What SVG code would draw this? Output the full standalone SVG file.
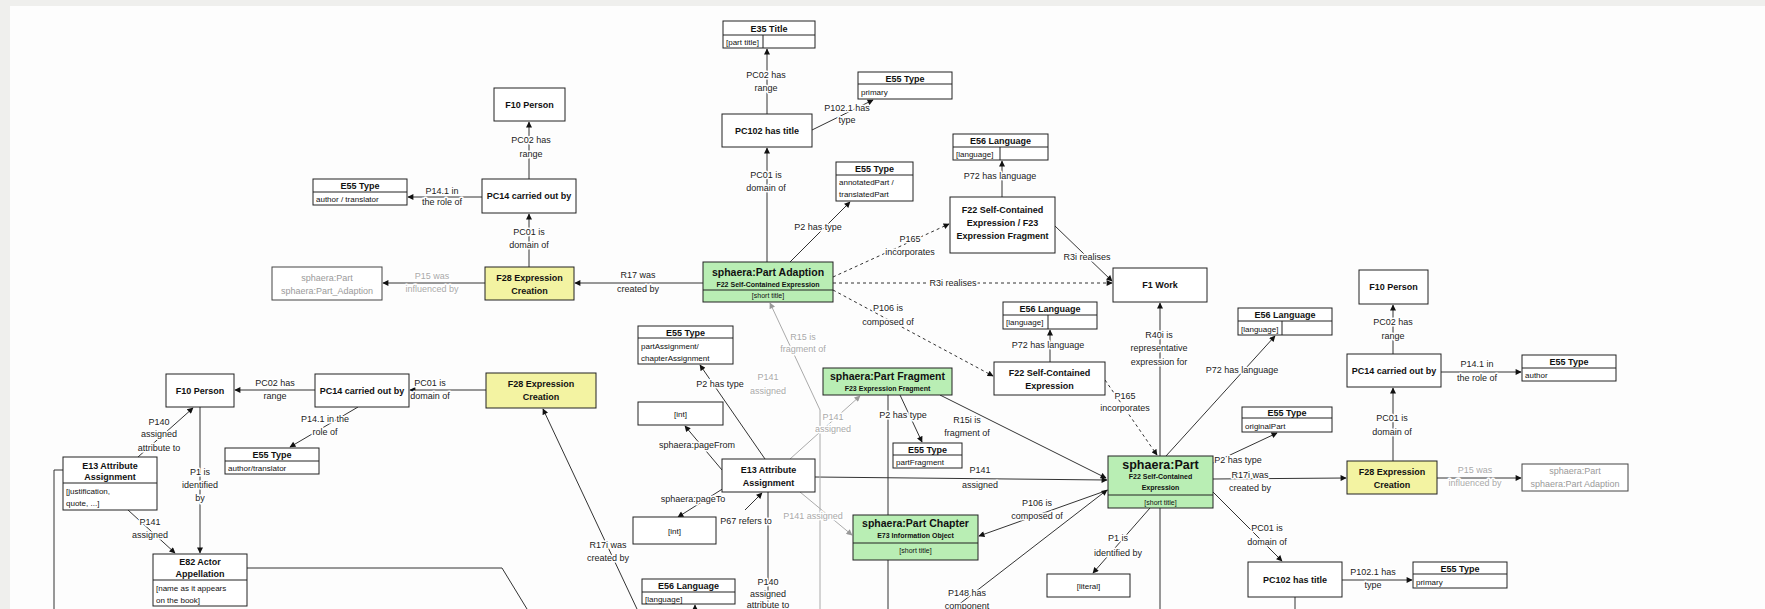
<svg xmlns="http://www.w3.org/2000/svg" width="1765" height="609" viewBox="0 0 1765 609">
<defs>
<marker id="ah" viewBox="0 0 10 10" refX="9" refY="5" markerWidth="7" markerHeight="6" markerUnits="userSpaceOnUse" orient="auto"><path d="M0,0 L10,5 L0,10 z" fill="#111"/></marker>
<marker id="ahg" viewBox="0 0 10 10" refX="9" refY="5" markerWidth="7" markerHeight="6" markerUnits="userSpaceOnUse" orient="auto"><path d="M0,0 L10,5 L0,10 z" fill="#999"/></marker>
<style>
.bx{fill:#fff;stroke:#222;stroke-width:1}
.gr{fill:#b9eeb4;stroke:#222;stroke-width:1}
.ye{fill:#f3f3a2;stroke:#222;stroke-width:1}
.gh{fill:#fff;stroke:#444;stroke-width:1}
.dv{stroke:#222;stroke-width:1}
text{font-family:"Liberation Sans",Arial,sans-serif;fill:#111}
.t{font-size:9px;font-weight:bold;text-anchor:middle}
.tg{font-size:10.5px;font-weight:bold;text-anchor:middle}
.st{font-size:7px;font-weight:bold;text-anchor:middle}
.sv{font-size:7px;text-anchor:middle}
.a{font-size:8px}
.gt{font-size:9px;text-anchor:middle;fill:#9a9a9a}
.lb{font-size:9px;text-anchor:middle;fill:#222;stroke:#fff;stroke-width:3px;paint-order:stroke;stroke-linejoin:round}
.lg{font-size:9px;text-anchor:middle;fill:#aaa;stroke:#fff;stroke-width:3px;paint-order:stroke;stroke-linejoin:round}
.c{fill:none;stroke:#333;stroke-width:1}
.cg{fill:none;stroke:#aaa;stroke-width:1}
.cd{fill:none;stroke:#333;stroke-width:1;stroke-dasharray:3,3}
</style>
</defs>
<rect x="0" y="0" width="1765" height="609" fill="#efefed"/>
<rect x="10" y="6" width="1755" height="603" fill="#fdfdfd"/>

<g id="connectors">
<line class="c" x1="482" y1="197" x2="408" y2="197" marker-end="url(#ah)"/>
<line class="c" x1="529" y1="179" x2="529" y2="122" marker-end="url(#ah)"/>
<line class="c" x1="529" y1="267" x2="529" y2="214" marker-end="url(#ah)"/>
<line class="c" x1="485" y1="283" x2="383" y2="283" stroke="#666" marker-end="url(#ah)"/>
<line class="c" x1="703" y1="283" x2="575" y2="283" marker-end="url(#ah)"/>
<line class="c" x1="767" y1="262" x2="767" y2="148" marker-end="url(#ah)"/>
<line class="c" x1="767" y1="114" x2="767" y2="49" marker-end="url(#ah)"/>
<line class="c" x1="812" y1="130" x2="873" y2="100" marker-end="url(#ah)"/>
<line class="c" x1="790" y1="262" x2="850" y2="202" marker-end="url(#ah)"/>
<line class="cd" x1="833" y1="277" x2="949" y2="224" marker-end="url(#ah)"/>
<line class="cd" x1="833" y1="283" x2="1112" y2="283" marker-end="url(#ah)"/>
<line class="cd" x1="833" y1="290" x2="993" y2="376" marker-end="url(#ah)"/>
<line class="c" x1="1055" y1="226" x2="1112" y2="281" marker-end="url(#ah)"/>
<line class="c" x1="1002" y1="197" x2="1002" y2="161" marker-end="url(#ah)"/>
<line class="c" x1="1050" y1="362" x2="1050" y2="330" marker-end="url(#ah)"/>
<line class="c" x1="1160" y1="456" x2="1160" y2="303" marker-end="url(#ah)"/>
<line class="cd" x1="1105" y1="380" x2="1157" y2="455" marker-end="url(#ah)"/>
<line class="c" x1="1166" y1="456" x2="1275" y2="336" marker-end="url(#ah)"/>
<line class="c" x1="1213" y1="463" x2="1277" y2="433" marker-end="url(#ah)"/>
<line class="c" x1="1213" y1="479" x2="1346" y2="478" marker-end="url(#ah)"/>
<line class="c" x1="1213" y1="492" x2="1282" y2="561" marker-end="url(#ah)"/>
<line class="c" x1="1342" y1="580" x2="1412" y2="580" marker-end="url(#ah)"/>
<line class="c" x1="1393" y1="461" x2="1393" y2="388" marker-end="url(#ah)"/>
<line class="c" x1="1393" y1="354" x2="1393" y2="305" marker-end="url(#ah)"/>
<line class="c" x1="1441" y1="372" x2="1521" y2="372" marker-end="url(#ah)"/>
<line class="c" x1="1437" y1="478" x2="1521" y2="478" stroke="#888" marker-end="url(#ah)"/>
<line class="c" x1="1295" y1="597" x2="1295" y2="609"/>
<line class="c" x1="1160" y1="508" x2="1160" y2="609"/>
<line class="c" x1="1150" y1="508" x2="1093" y2="573" marker-end="url(#ah)"/>
<line class="c" x1="1108" y1="490" x2="979" y2="536" marker-end="url(#ah)"/>
<line class="c" x1="953" y1="609" x2="1107" y2="490" marker-end="url(#ah)"/>
<line class="c" x1="815" y1="477" x2="1107" y2="480" marker-end="url(#ah)"/>
<line class="c" x1="940" y1="395" x2="1106" y2="478" marker-end="url(#ah)"/>
<line class="c" x1="900" y1="395" x2="922" y2="442" marker-end="url(#ah)"/>
<line class="c" x1="888" y1="395" x2="888" y2="609"/>
<polyline class="cg" points="820,609 820,410 770,303" marker-end="url(#ahg)"/>
<line class="cg" x1="790" y1="459" x2="860" y2="396" marker-end="url(#ahg)"/>
<line class="cg" x1="800" y1="492" x2="852" y2="535" marker-end="url(#ahg)"/>
<line class="c" x1="765" y1="459" x2="700" y2="365" marker-end="url(#ah)"/>
<line class="c" x1="722" y1="470" x2="685" y2="426" marker-end="url(#ah)"/>
<line class="c" x1="724" y1="488" x2="678" y2="517" marker-end="url(#ah)"/>
<line class="c" x1="745" y1="510" x2="762" y2="493" marker-end="url(#ah)"/>
<line class="c" x1="768" y1="492" x2="768" y2="609"/>
<line class="c" x1="486" y1="390" x2="410" y2="390" marker-end="url(#ah)"/>
<line class="c" x1="315" y1="390" x2="235" y2="390" marker-end="url(#ah)"/>
<line class="c" x1="358" y1="407" x2="290" y2="447" marker-end="url(#ah)"/>
<line class="c" x1="138" y1="457" x2="193" y2="408" marker-end="url(#ah)"/>
<line class="c" x1="200" y1="407" x2="200" y2="553" marker-end="url(#ah)"/>
<line class="c" x1="128" y1="510" x2="175" y2="553" marker-end="url(#ah)"/>
<polyline class="c" points="63,470 54,470 54,609"/>
<polyline class="c" points="247,568 502,568 527,609"/>
<line class="c" x1="637" y1="609" x2="543" y2="409" marker-end="url(#ah)"/>
<line class="c" x1="695" y1="612" x2="695" y2="605" marker-end="url(#ah)"/>

<text class="lb" x="442" y="194">P14.1 in</text><text class="lb" x="442" y="205">the role of</text>
<text class="lb" x="531" y="143">PC02 has</text><text class="lb" x="531" y="157">range</text>
<text class="lb" x="529" y="235">PC01 is</text><text class="lb" x="529" y="248">domain of</text>
<text class="lg" x="432" y="279">P15 was</text><text class="lg" x="432" y="292">influenced by</text>
<text class="lb" x="638" y="278">R17 was</text><text class="lb" x="638" y="292">created by</text>
<text class="lb" x="766" y="178">PC01 is</text><text class="lb" x="766" y="191">domain of</text>
<text class="lb" x="766" y="78">PC02 has</text><text class="lb" x="766" y="91">range</text>
<text class="lb" x="847" y="111">P102.1 has</text><text class="lb" x="847" y="123">type</text>
<text class="lb" x="818" y="230">P2 has type</text>
<text class="lb" x="910" y="242">P165</text><text class="lb" x="910" y="255">incorporates</text>
<text class="lb" x="953" y="286">R3i realises</text>
<text class="lb" x="888" y="311">P106 is</text><text class="lb" x="888" y="325">composed of</text>
<text class="lb" x="1087" y="260">R3i realises</text>
<text class="lb" x="1000" y="179">P72 has language</text>
<text class="lb" x="1048" y="348">P72 has language</text>
<text class="lb" x="1159" y="338">R40i is</text><text class="lb" x="1159" y="351">representative</text><text class="lb" x="1159" y="365">expression for</text>
<text class="lb" x="1125" y="399">P165</text><text class="lb" x="1125" y="411">incorporates</text>
<text class="lb" x="1242" y="373">P72 has language</text>
<text class="lb" x="1238" y="463">P2 has type</text>
<text class="lb" x="1250" y="478">R17i was</text><text class="lb" x="1250" y="491">created by</text>
<text class="lb" x="1267" y="531">PC01 is</text><text class="lb" x="1267" y="545">domain of</text>
<text class="lb" x="1373" y="575">P102.1 has</text><text class="lb" x="1373" y="588">type</text>
<text class="lb" x="1392" y="421">PC01 is</text><text class="lb" x="1392" y="435">domain of</text>
<text class="lb" x="1393" y="325">PC02 has</text><text class="lb" x="1393" y="339">range</text>
<text class="lb" x="1477" y="367">P14.1 in</text><text class="lb" x="1477" y="381">the role of</text>
<text class="lg" x="1475" y="473">P15 was</text><text class="lg" x="1475" y="486">influenced by</text>
<text class="lb" x="1118" y="541">P1 is</text><text class="lb" x="1118" y="556">identified by</text>
<text class="lb" x="1037" y="506">P106 is</text><text class="lb" x="1037" y="519">composed of</text>
<text class="lb" x="967" y="596">P148 has</text><text class="lb" x="967" y="609">component</text>
<text class="lb" x="980" y="473">P141</text><text class="lb" x="980" y="488">assigned</text>
<text class="lb" x="967" y="423">R15i is</text><text class="lb" x="967" y="436">fragment of</text>
<text class="lb" x="903" y="418">P2 has type</text>
<text class="lg" x="803" y="340">R15 is</text><text class="lg" x="803" y="352">fragment of</text>
<text class="lg" x="768" y="380">P141</text><text class="lg" x="768" y="394">assigned</text>
<text class="lg" x="833" y="420">P141</text><text class="lg" x="833" y="432">assigned</text>
<text class="lg" x="813" y="519">P141 assigned</text>
<text class="lb" x="720" y="387">P2 has type</text>
<text class="lb" x="697" y="448">sphaera:pageFrom</text>
<text class="lb" x="693" y="502">sphaera:pageTo</text>
<text class="lb" x="746" y="524">P67 refers to</text>
<text class="lb" x="768" y="585">P140</text><text class="lb" x="768" y="597">assigned</text><text class="lb" x="768" y="608">attribute to</text>
<text class="lb" x="430" y="386">PC01 is</text><text class="lb" x="430" y="399">domain of</text>
<text class="lb" x="275" y="386">PC02 has</text><text class="lb" x="275" y="399">range</text>
<text class="lb" x="325" y="422">P14.1 in the</text><text class="lb" x="325" y="435">role of</text>
<text class="lb" x="159" y="425">P140</text><text class="lb" x="159" y="437">assigned</text><text class="lb" x="159" y="451">attribute to</text>
<text class="lb" x="200" y="475">P1 is</text><text class="lb" x="200" y="488">identified</text><text class="lb" x="200" y="501">by</text>
<text class="lb" x="150" y="525">P141</text><text class="lb" x="150" y="538">assigned</text>
<text class="lb" x="608" y="548">R17i was</text><text class="lb" x="608" y="561">created by</text>
</g>

<g id="n_e55_author_translator"><rect class="bx" x="313" y="179" width="94" height="26"/><line class="dv" x1="313" y1="192" x2="407" y2="192"/><text class="t" x="360" y="189">E55 Type</text><text class="a" x="316" y="202">author / translator</text></g>
<g id="n_f10_person_top"><rect class="bx" x="494" y="88" width="71" height="33"/><text class="t" x="529.5" y="108">F10 Person</text></g>
<g id="n_pc14_top"><rect class="bx" x="482" y="179" width="94" height="34"/><text class="t" x="529" y="199">PC14 carried out by</text></g>
<g id="n_f28_top"><rect class="ye" x="485" y="267" width="89" height="33"/><text class="t" x="529.5" y="281">F28 Expression</text><text class="t" x="529.5" y="294">Creation</text></g>
<g id="n_ghost_left"><rect class="gh" x="272" y="267" width="110" height="33"/><text class="gt" x="327" y="281">sphaera:Part</text><text class="gt" x="327" y="294">sphaera:Part_Adaption</text></g>
<g id="n_e35_title"><rect class="bx" x="723" y="21" width="92" height="27"/><line class="dv" x1="723" y1="35" x2="815" y2="35"/><line class="dv" x1="763" y1="35" x2="763" y2="48"/><text class="t" x="769" y="32">E35 Title</text><text class="a" x="726" y="45">[part title]</text></g>
<g id="n_pc102_top"><rect class="bx" x="722" y="114" width="90" height="33"/><text class="t" x="767" y="134">PC102 has title</text></g>
<g id="n_e55_primary_top"><rect class="bx" x="858" y="72" width="94" height="27"/><line class="dv" x1="858" y1="84" x2="952" y2="84"/><text class="t" x="905" y="82">E55 Type</text><text class="a" x="861" y="95">primary</text></g>
<g id="n_e55_annot"><rect class="bx" x="836" y="162" width="77" height="39"/><line class="dv" x1="836" y1="175" x2="913" y2="175"/><text class="t" x="874.5" y="172">E55 Type</text><text class="a" x="839" y="185">annotatedPart /</text><text class="a" x="839" y="197">translatedPart</text></g>
<g id="n_sp_adaption"><rect class="gr" x="703" y="262" width="130" height="40"/><line class="dv" x1="703" y1="290" x2="833" y2="290"/><text class="tg" x="768" y="276">sphaera:Part Adaption</text><text class="st" x="768" y="287">F22 Self-Contained Expression</text><text class="sv" x="768" y="298">[short title]</text></g>
<g id="n_e56_lang_top"><rect class="bx" x="953" y="134" width="95" height="26"/><line class="dv" x1="953" y1="147" x2="1048" y2="147"/><line class="dv" x1="1000" y1="147" x2="1000" y2="160"/><text class="t" x="1000.5" y="144">E56 Language</text><text class="a" x="956" y="157">[language]</text></g>
<g id="n_f22_f23"><rect class="bx" x="950" y="197" width="105" height="56"/><text class="t" x="1002.5" y="213">F22 Self-Contained</text><text class="t" x="1002.5" y="226">Expression / F23</text><text class="t" x="1002.5" y="239">Expression Fragment</text></g>
<g id="n_f1_work"><rect class="bx" x="1113" y="268" width="94" height="34"/><text class="t" x="1160" y="288">F1 Work</text></g>
<g id="n_e56_lang_mid"><rect class="bx" x="1003" y="302" width="94" height="27"/><line class="dv" x1="1003" y1="315" x2="1097" y2="315"/><line class="dv" x1="1048" y1="315" x2="1048" y2="329"/><text class="t" x="1050" y="312">E56 Language</text><text class="a" x="1006" y="325">[language]</text></g>
<g id="n_f22_sce"><rect class="bx" x="994" y="362" width="111" height="33"/><text class="t" x="1049.5" y="376">F22 Self-Contained</text><text class="t" x="1049.5" y="389">Expression</text></g>
<g id="n_e56_lang_right"><rect class="bx" x="1238" y="308" width="94" height="27"/><line class="dv" x1="1238" y1="321" x2="1332" y2="321"/><line class="dv" x1="1282" y1="321" x2="1282" y2="335"/><text class="t" x="1285" y="318">E56 Language</text><text class="a" x="1241" y="332">[language]</text></g>
<g id="n_f10_right"><rect class="bx" x="1359" y="270" width="69" height="34"/><text class="t" x="1393.5" y="290">F10 Person</text></g>
<g id="n_pc14_right"><rect class="bx" x="1347" y="354" width="94" height="33"/><text class="t" x="1394" y="374">PC14 carried out by</text></g>
<g id="n_e55_author"><rect class="bx" x="1522" y="355" width="94" height="26"/><line class="dv" x1="1522" y1="368" x2="1616" y2="368"/><text class="t" x="1569" y="365">E55 Type</text><text class="a" x="1525" y="378">author</text></g>
<g id="n_f28_right"><rect class="ye" x="1347" y="461" width="90" height="33"/><text class="t" x="1392" y="475">F28 Expression</text><text class="t" x="1392" y="488">Creation</text></g>
<g id="n_ghost_right"><rect class="gh" x="1522" y="464" width="106" height="27"/><text class="gt" x="1575" y="474">sphaera:Part</text><text class="gt" x="1575" y="487">sphaera:Part Adaption</text></g>
<g id="n_e55_original"><rect class="bx" x="1242" y="407" width="90" height="25"/><line class="dv" x1="1242" y1="418" x2="1332" y2="418"/><text class="t" x="1287" y="416">E55 Type</text><text class="a" x="1245" y="429">originalPart</text></g>
<g id="n_sp_part"><rect class="gr" x="1108" y="456" width="105" height="52"/><line class="dv" x1="1108" y1="495" x2="1213" y2="495"/><text class="tg" x="1160.5" y="469" style="font-size:12.5px">sphaera:Part</text><text class="st" x="1160.5" y="479">F22 Self-Contained</text><text class="st" x="1160.5" y="490">Expression</text><text class="sv" x="1160.5" y="505">[short title]</text></g>
<g id="n_pc102_right"><rect class="bx" x="1248" y="562" width="94" height="35"/><text class="t" x="1295" y="583">PC102 has title</text></g>
<g id="n_e55_primary_right"><rect class="bx" x="1413" y="562" width="94" height="26"/><line class="dv" x1="1413" y1="574" x2="1507" y2="574"/><text class="t" x="1460" y="572">E55 Type</text><text class="a" x="1416" y="585">primary</text></g>
<g id="n_literal"><rect class="bx" x="1047" y="574" width="83" height="23"/><text class="sv" x="1088.5" y="589" style="font-size:8px">[literal]</text></g>
<g id="n_sp_chapter"><rect class="gr" x="853" y="515" width="125" height="45"/><line class="dv" x1="853" y1="543" x2="978" y2="543"/><text class="tg" x="915.5" y="527">sphaera:Part Chapter</text><text class="st" x="915.5" y="538">E73 Information Object</text><text class="sv" x="915.5" y="553">[short title]</text></g>
<g id="n_e55_partfrag"><rect class="bx" x="893" y="443" width="69" height="25"/><line class="dv" x1="893" y1="455" x2="962" y2="455"/><text class="t" x="927.5" y="453">E55 Type</text><text class="a" x="896" y="465">partFragment</text></g>
<g id="n_sp_fragment"><rect class="gr" x="823" y="368" width="129" height="27"/><text class="tg" x="887.5" y="380">sphaera:Part Fragment</text><text class="st" x="887.5" y="391">F23 Expression Fragment</text></g>
<g id="n_e55_partassign"><rect class="bx" x="638" y="326" width="95" height="38"/><line class="dv" x1="638" y1="338" x2="733" y2="338"/><text class="t" x="685.5" y="336">E55 Type</text><text class="a" x="641" y="349">partAssignment/</text><text class="a" x="641" y="361">chapterAssignment</text></g>
<g id="n_int_top"><rect class="bx" x="638" y="402" width="85" height="23"/><text class="sv" x="680.5" y="417" style="font-size:8px">[int]</text></g>
<g id="n_e13_center"><rect class="bx" x="722" y="459" width="93" height="33"/><text class="t" x="768.5" y="473">E13 Attribute</text><text class="t" x="768.5" y="486">Assignment</text></g>
<g id="n_int_bottom"><rect class="bx" x="633" y="517" width="83" height="27"/><text class="sv" x="674.5" y="534" style="font-size:8px">[int]</text></g>
<g id="n_e56_lang_bottom"><rect class="bx" x="642" y="579" width="93" height="25"/><line class="dv" x1="642" y1="592" x2="735" y2="592"/><text class="t" x="688.5" y="589">E56 Language</text><text class="a" x="645" y="602">[language]</text></g>
<g id="n_f28_left2"><rect class="ye" x="486" y="373" width="110" height="35"/><text class="t" x="541" y="387">F28 Expression</text><text class="t" x="541" y="400">Creation</text></g>
<g id="n_pc14_left2"><rect class="bx" x="315" y="374" width="94" height="33"/><text class="t" x="362" y="394">PC14 carried out by</text></g>
<g id="n_f10_left2"><rect class="bx" x="166" y="374" width="68" height="33"/><text class="t" x="200" y="394">F10 Person</text></g>
<g id="n_e55_authtrans2"><rect class="bx" x="225" y="448" width="94" height="26"/><line class="dv" x1="225" y1="461" x2="319" y2="461"/><text class="t" x="272" y="458">E55 Type</text><text class="a" x="228" y="471">author/translator</text></g>
<g id="n_e13_left"><rect class="bx" x="63" y="457" width="94" height="53"/><line class="dv" x1="63" y1="483" x2="157" y2="483"/><text class="t" x="110" y="469">E13 Attribute</text><text class="t" x="110" y="480">Assignment</text><text class="a" x="66" y="494">[justification,</text><text class="a" x="66" y="506">quote, ...]</text></g>
<g id="n_e82"><rect class="bx" x="153" y="554" width="94" height="52"/><line class="dv" x1="153" y1="580" x2="247" y2="580"/><text class="t" x="200" y="565">E82 Actor</text><text class="t" x="200" y="577">Appellation</text><text class="a" x="156" y="591">[name as it appears</text><text class="a" x="156" y="603">on the book]</text></g>
</svg>
